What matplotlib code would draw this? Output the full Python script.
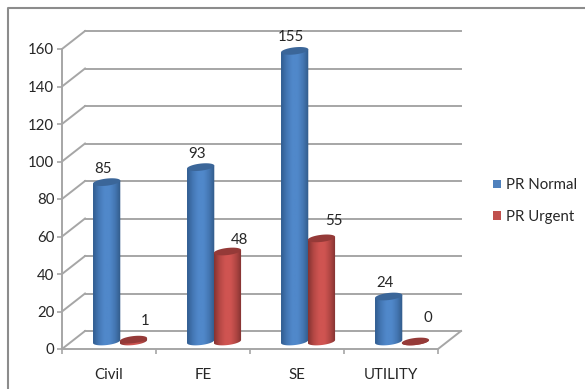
import numpy as np
import matplotlib
matplotlib.use('Agg')
import matplotlib.pyplot as plt
from matplotlib.colors import LinearSegmentedColormap
from matplotlib.lines import Line2D
from matplotlib.patches import Patch, Polygon

categories = ['Civil', 'FE', 'SE', 'UTILITY']
pr_normal = [85, 93, 155, 24]
pr_urgent = [1, 48, 55, 0]
y_ticks = [0, 20, 40, 60, 80, 100, 120, 140, 160]

plt.rcParams['font.family'] = ['Lato', 'DejaVu Sans']
TEXT = '#262626'
LINE = '#a6a6a6'
FONT = 10.8

# fake 3D: the back wall sits this far behind the front axes, in data units
DEPTH_X = 0.245
DEPTH_Y = 9.6
BAR_W = 0.29
BAR_LIFT = 4.0
RX_TILT = 0.8
RY = 1.9

BLUE = ['#315d90', '#4477b4', '#5088ca', '#5088ca', '#4476b2', '#315a88']
RED = ['#853331', '#b54845', '#cf5451', '#cf5451', '#b04643', '#803130']

# vertical gap between each urgent label and its bar top, in pixels
urgent_gap = [19, 12, 17, 24]


def ellipsePoints(cx, cy, half=False):
    """Outline of a bar end, tilted a little. half=True gives only the front arc"""
    t = np.linspace(np.pi, 2 * np.pi, 40) if half else np.linspace(0, 2 * np.pi, 80)
    c = np.cos(t)
    return cx + c * BAR_W / 2, cy + np.sin(t) * RY + c * RX_TILT


def drawCylinder(ax, cx, value, colors, top_color):
    """Draws one shaded cylinder from the floor up to value"""
    base = BAR_LIFT
    top = BAR_LIFT + value
    bx, by = ellipsePoints(cx, base, half=True)
    outline = np.vstack([
        np.column_stack([bx, by]),
        [[cx + BAR_W / 2, top + RX_TILT]],
        [[cx - BAR_W / 2, top - RX_TILT]],
    ])
    cmap = LinearSegmentedColormap.from_list('shade', colors)
    gradient = np.linspace(0, 1, 64).reshape(1, -1)
    im = ax.imshow(gradient, cmap=cmap, aspect='auto', zorder=4,
                   extent=[cx - BAR_W / 2, cx + BAR_W / 2, base - 4, top + 2])
    clip = Polygon(outline, closed=True, transform=ax.transData)
    im.set_clip_path(clip)

    tx, ty = ellipsePoints(cx, top)
    ax.fill(tx, ty, color=top_color, lw=0, zorder=5, clip_on=False)


fig = plt.figure(figsize=(5.85, 3.89), dpi=100)
ax = fig.add_axes([62 / 585, 40 / 389, 376 / 585, 300 / 389])

# chart frame only shows on the top and left
fig.add_artist(Line2D([7.5 / 585, 7.5 / 585, 1], [0, 381 / 389, 381 / 389], color='#8c8c8c', lw=1.5))

# back wall and left wall
for v in y_ticks:
    ax.plot([DEPTH_X, 4 + DEPTH_X], [v + DEPTH_Y, v + DEPTH_Y], color=LINE, lw=1.4, zorder=1, clip_on=False)
    ax.plot([0, DEPTH_X], [v, v + DEPTH_Y], color=LINE, lw=1.4, zorder=1, clip_on=False)
ax.plot([4, 4 + DEPTH_X], [0, DEPTH_Y], color=LINE, lw=1.4, zorder=1, clip_on=False)

for i in range(len(categories)):
    blue_x = i + 0.475
    red_x = i + 0.76
    drawCylinder(ax, blue_x, pr_normal[i], BLUE, '#3b6699')
    drawCylinder(ax, red_x, pr_urgent[i], RED, '#953a38')

    ax.annotate(str(pr_normal[i]), (blue_x, pr_normal[i] + BAR_LIFT), xytext=(-4, 13.5),
                textcoords='offset pixels', ha='center', va='center',
                fontsize=FONT, color=TEXT, zorder=6, annotation_clip=False)
    ax.annotate(str(pr_urgent[i]), (red_x, pr_urgent[i] + BAR_LIFT), xytext=(12, urgent_gap[i]),
                textcoords='offset pixels', ha='center', va='center',
                fontsize=FONT, color=TEXT, zorder=6, annotation_clip=False)

ax.set_xlim(0, 4)
ax.set_ylim(0, 160)
ax.patch.set_visible(False)
for side in ['top', 'right']:
    ax.spines[side].set_visible(False)
for side in ['left', 'bottom']:
    ax.spines[side].set_color(LINE)
    ax.spines[side].set_linewidth(1.4)

ax.set_yticks(y_ticks)
ax.set_xticks(range(5))
ax.set_xticklabels([])
ax.set_xticks([i + 0.5 for i in range(4)], categories, minor=True)
ax.tick_params(axis='x', which='minor', length=0, pad=14, labelsize=FONT, labelcolor=TEXT)
ax.tick_params(axis='x', which='major', length=3.5, width=1.2, color=LINE)
ax.tick_params(axis='y', length=3.5, width=1.2, color=LINE, pad=2, labelsize=FONT, labelcolor=TEXT)

handles = [Patch(facecolor='#4f81bd', label='PR Normal'), Patch(facecolor='#c0504d', label='PR Urgent')]
fig.legend(handles=handles, loc='center left', bbox_to_anchor=(493 / 585, 188 / 389), frameon=False,
           fontsize=FONT, labelcolor=TEXT, handlelength=0.5, handleheight=0.5, handletextpad=0.35,
           labelspacing=1.17, borderpad=0, borderaxespad=0)

fig.savefig('out.png', dpi=100)
